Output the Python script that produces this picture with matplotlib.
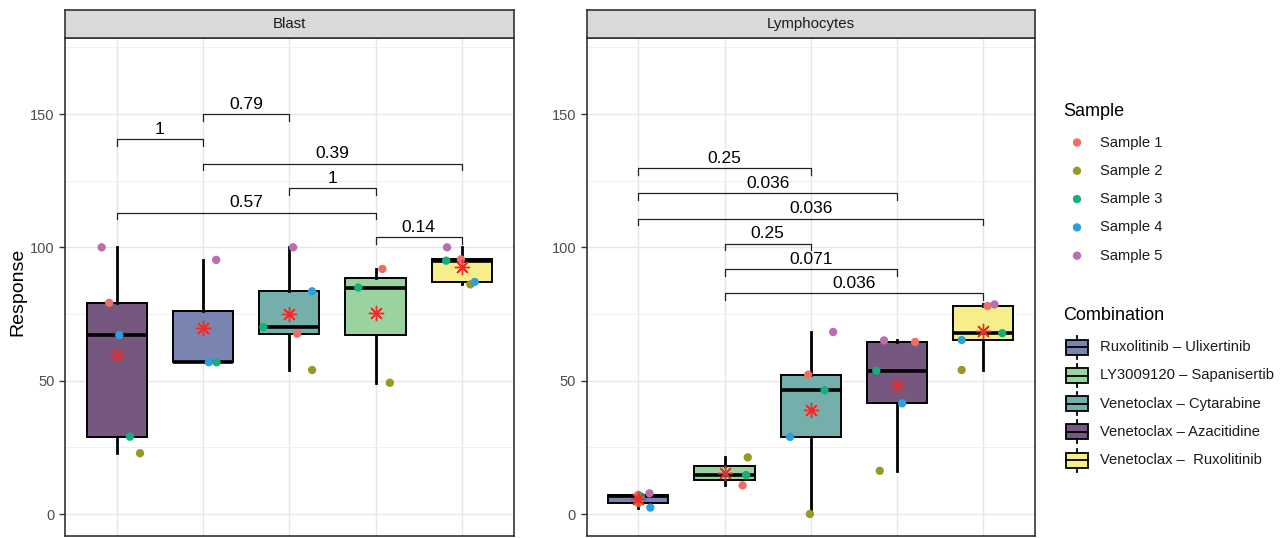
import numpy as np
import matplotlib
matplotlib.use("Agg")
import matplotlib.pyplot as plt
from matplotlib.patches import Rectangle
from matplotlib.ticker import MultipleLocator

plt.rcParams['font.family'] = ['Liberation Sans', 'DejaVu Sans']

samples = ["Sample 1", "Sample 2", "Sample 3", "Sample 4", "Sample 5"]
sample_colors = ["#EE6E67", "#979A22", "#13B07B", "#2BA0DA", "#BC6CB0"]

combinations = ["Ruxolitinib – Ulixertinib", "LY3009120 – Sapanisertib",
                "Venetoclax – Cytarabine", "Venetoclax – Azacitidine",
                "Venetoclax –  Ruxolitinib"]
combo_colors = ["#7A84B0", "#9AD3A0", "#74AFAB", "#76577F", "#F5EE8A"]

# response per combination (rows) and sample (columns), nan = not measured
blast = np.array([
    [np.nan, np.nan, 56.9, 56.9, 95.3],
    [91.9, 49.2, 84.9, np.nan, np.nan],
    [67.6, 54.0, 70.1, 83.5, 100.0],
    [79.2, 22.8, 29.0, 67.1, 100.0],
    [95.5, 86.1, 95.0, 87.0, 100.0],
])
lymph = np.array([
    [7.2, 4.1, 6.6, 2.4, 7.75],
    [10.75, 21.25, 14.6, np.nan, np.nan],
    [52.25, 0.0, 46.4, 28.9, 68.25],
    [64.5, 16.2, 53.75, 41.5, 65.1],
    [78.0, 54.0, 67.8, 65.25, 78.6],
])

# horizontal jitter of the sample points
blast_jitter = np.array([
    [0, 0, 0.157, 0.068, 0.153],
    [0.08, 0.166, -0.20, 0, 0],
    [0.092, 0.265, -0.30, 0.265, 0.045],
    [-0.087, 0.27, 0.153, 0.029, -0.175],
    [-0.01, 0.10, -0.18, 0.15, -0.17],
])
lymph_jitter = np.array([
    [0.0, 0.0, 0.03, 0.14, 0.13],
    [0.21, 0.27, 0.25, 0, 0],
    [-0.03, -0.01, 0.16, -0.24, 0.26],
    [0.21, -0.20, -0.24, 0.06, -0.15],
    [0.05, -0.25, 0.22, -0.25, 0.13],
])

# x order of combinations in each facet (sorted by median)
blast_order = [3, 0, 2, 1, 4]
lymph_order = [0, 1, 2, 3, 4]

# pairwise tests: (group a, group b, bracket height, p value)
blast_tests = [(1, 2, 140.6, "1"), (2, 3, 149.9, "0.79"), (2, 5, 131.4, "0.39"),
               (3, 4, 122.1, "1"), (1, 4, 113.0, "0.57"), (4, 5, 103.75, "0.14")]
lymph_tests = [(1, 3, 129.6, "0.25"), (1, 4, 120.25, "0.036"), (1, 5, 110.75, "0.036"),
               (2, 3, 101.4, "0.25"), (2, 4, 91.9, "0.071"), (2, 5, 82.75, "0.036")]

panels = [("Blast", blast, blast_jitter, blast_order, blast_tests),
          ("Lymphocytes", lymph, lymph_jitter, lymph_order, lymph_tests)]

W, H = 1284, 538
fig = plt.figure(figsize=(W / 100, H / 100), dpi=100)


def frac(x0, y0, x1, y1):
    return [x0 / W, (H - y1) / H, (x1 - x0) / W, (y1 - y0) / H]


panel_x = [(65, 513.5), (586.5, 1035)]
for (title, vals, jit, order, tests), (x0, x1) in zip(panels, panel_x):
    ax = fig.add_axes(frac(x0, 38, x1, 536))
    strip = fig.add_axes(frac(x0, 10, x1, 38))
    strip.set_facecolor("#D9D9D9")
    strip.set_xticks([])
    strip.set_yticks([])
    for s in strip.spines.values():
        s.set_color("#333333")
        s.set_linewidth(1.2)
    strip.text(0.5, 0.5, title, ha="center", va="center", fontsize=10.8, color="#1A1A1A",
               transform=strip.transAxes)

    pos = np.arange(1, 6)
    data = [vals[c][~np.isnan(vals[c])] for c in order]
    bp = ax.boxplot(data, positions=pos, widths=0.7, patch_artist=True,
                    showfliers=False, showcaps=False, whis=1.5,
                    boxprops=dict(edgecolor="black", linewidth=1.4),
                    medianprops=dict(color="black", linewidth=2.6),
                    whiskerprops=dict(color="black", linewidth=2.0))
    for patch, c in zip(bp["boxes"], order):
        patch.set_facecolor(combo_colors[c])
        patch.set_zorder(2)

    for i, c in enumerate(order):
        for s in range(len(samples)):
            if np.isnan(vals[c][s]):
                continue
            ax.scatter(pos[i] + jit[c][s], vals[c][s], s=36, color=sample_colors[s],
                       edgecolors="none", zorder=4)
        ax.plot(pos[i], np.nanmean(vals[c]), marker=(8, 2, 0), markersize=11,
                markeredgewidth=1.0, color="#EE2A2A", zorder=5, linestyle="none")

    for a, b, h, p in tests:
        ax.plot([a, a, b, b], [h - 2.5, h, h, h - 2.5], color="#222222", linewidth=0.9,
                zorder=3)
        ax.text((a + b) / 2, h + 0.9, p, ha="center", va="bottom", fontsize=12.5,
                color="black")

    ax.set_xlim(0.4, 5.6)
    ax.set_ylim(-8.25, 178.5)
    ax.set_yticks([0, 50, 100, 150])
    ax.yaxis.set_minor_locator(MultipleLocator(25))
    ax.set_xticks(pos)
    ax.tick_params(axis="x", length=0, labelbottom=False)
    ax.tick_params(axis="y", which="major", length=4, color="#333333",
                   labelsize=10.5, labelcolor="#4D4D4D", width=1)
    ax.tick_params(axis="y", which="minor", length=0)
    ax.grid(True, which="major", color="#E6E6E6", linewidth=1.0)
    ax.grid(True, which="minor", axis="y", color="#EDEDED", linewidth=0.6)
    ax.set_axisbelow(True)
    for s in ax.spines.values():
        s.set_color("#333333")
        s.set_linewidth(1.2)

fig.text(18 / W, (H - 292) / H, "Response", rotation=90, ha="center", va="center",
         fontsize=14, color="black")

# legends drawn in pixel space on the right
lg = fig.add_axes(frac(1050, 90, 1284, 480))
lg.set_xlim(1050, 1284)
lg.set_ylim(480, 90)
lg.axis("off")

lg.text(1063, 111, "Sample", fontsize=13, va="center", ha="left")
for i, (name, col) in enumerate(zip(samples, sample_colors)):
    y = 142.5 + i * 28.3
    lg.scatter(1077, y, s=36, color=col, edgecolors="none")
    lg.text(1100, y, name, fontsize=10.6, va="center", ha="left", color="#1A1A1A")

lg.text(1063, 315, "Combination", fontsize=13, va="center", ha="left")
for i, (name, col) in enumerate(zip(combinations, combo_colors)):
    y = 347.3 + i * 28.2
    lg.add_patch(Rectangle((1066, y - 7.5), 22, 15, facecolor=col, edgecolor="black",
                           linewidth=1.3))
    lg.plot([1066, 1088], [y, y], color="black", linewidth=1.3)
    lg.plot([1077, 1077], [y - 7.5, y - 11.5], color="black", linewidth=1.3)
    lg.plot([1077, 1077], [y + 7.5, y + 11.5], color="black", linewidth=1.3)
    lg.text(1100, y, name, fontsize=10.6, va="center", ha="left", color="#1A1A1A")

fig.savefig("out.png", dpi=100)
